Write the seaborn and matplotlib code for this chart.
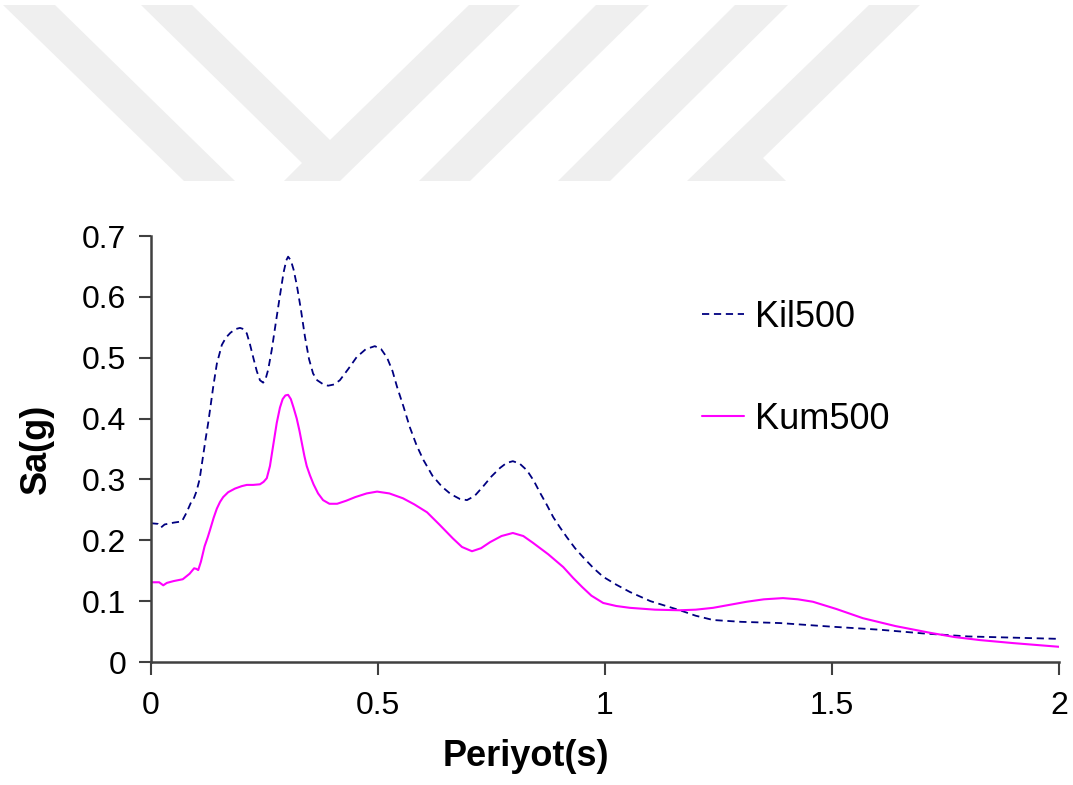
import numpy as np
import pandas as pd
import matplotlib
matplotlib.use("Agg")
import matplotlib.pyplot as plt
from matplotlib.patches import Polygon
import seaborn as sns

# ---- data ----
kil_period = [0.00, 0.015, 0.022, 0.03, 0.05, 0.068, 0.078, 0.088, 0.095, 0.10, 0.107,
              0.115, 0.12, 0.126, 0.132, 0.137, 0.145, 0.156, 0.165, 0.175, 0.186, 0.196,
              0.204, 0.211, 0.218, 0.226, 0.233, 0.240, 0.247, 0.252, 0.258, 0.266, 0.275,
              0.284, 0.292, 0.298, 0.302, 0.308, 0.314, 0.321, 0.330, 0.339, 0.348, 0.357,
              0.366, 0.378, 0.39, 0.403, 0.416, 0.435, 0.453, 0.473, 0.493, 0.507, 0.52,
              0.532, 0.542, 0.556, 0.57, 0.585, 0.60, 0.62, 0.641, 0.66, 0.68, 0.696,
              0.713, 0.731, 0.75, 0.769, 0.783, 0.797, 0.812, 0.828, 0.843, 0.857, 0.872,
              0.886, 0.901, 0.916, 0.934, 0.952, 0.975, 0.996, 1.025, 1.055, 1.10, 1.165,
              1.20, 1.238, 1.30, 1.385, 1.50, 1.606, 1.70, 1.80, 1.90, 2.00]
kil_sa = [0.228, 0.227, 0.221, 0.226, 0.229, 0.231, 0.245, 0.262, 0.270, 0.280, 0.300,
          0.340, 0.365, 0.393, 0.425, 0.452, 0.490, 0.521, 0.533, 0.541, 0.547, 0.549,
          0.547, 0.540, 0.522, 0.498, 0.478, 0.463, 0.459, 0.464, 0.480, 0.513, 0.558,
          0.602, 0.640, 0.660, 0.666, 0.660, 0.645, 0.620, 0.580, 0.535, 0.498, 0.474,
          0.463, 0.457, 0.454, 0.456, 0.463, 0.482, 0.501, 0.514, 0.519, 0.514, 0.500,
          0.478, 0.452, 0.420, 0.386, 0.356, 0.332, 0.306, 0.288, 0.276, 0.268, 0.266,
          0.273, 0.288, 0.305, 0.319, 0.327, 0.330, 0.326, 0.315, 0.298, 0.278, 0.258,
          0.238, 0.221, 0.205, 0.187, 0.172, 0.154, 0.140, 0.127, 0.115, 0.100, 0.085,
          0.076, 0.069, 0.066, 0.064, 0.058, 0.053, 0.047, 0.042, 0.040, 0.038]

kum_period = [0.00, 0.018, 0.027, 0.035, 0.05, 0.07, 0.085, 0.095, 0.10, 0.104, 0.11,
              0.118, 0.125, 0.13, 0.138, 0.145, 0.152, 0.159, 0.17, 0.185, 0.20, 0.211,
              0.225, 0.24, 0.248, 0.255, 0.262, 0.27, 0.277, 0.284, 0.29, 0.296, 0.302,
              0.308, 0.314, 0.321, 0.327, 0.333, 0.338, 0.343, 0.35, 0.358, 0.368, 0.379,
              0.393, 0.41, 0.43, 0.45, 0.475, 0.498, 0.525, 0.555, 0.58, 0.608, 0.635,
              0.665, 0.685, 0.707, 0.727, 0.747, 0.772, 0.797, 0.82, 0.841, 0.875, 0.908,
              0.93, 0.95, 0.97, 0.996, 1.025, 1.055, 1.11, 1.165, 1.20, 1.238, 1.275,
              1.312, 1.35, 1.392, 1.425, 1.458, 1.51, 1.568, 1.64, 1.716, 1.77, 1.826,
              1.90, 2.00]
kum_sa = [0.131, 0.131, 0.126, 0.130, 0.133, 0.136, 0.145, 0.154, 0.153, 0.151, 0.165,
          0.190, 0.205, 0.217, 0.237, 0.252, 0.263, 0.271, 0.279, 0.285, 0.289, 0.291,
          0.291, 0.292, 0.296, 0.302, 0.322, 0.360, 0.393, 0.418, 0.432, 0.438, 0.439,
          0.432, 0.418, 0.400, 0.380, 0.357, 0.338, 0.322, 0.307, 0.292, 0.277, 0.266,
          0.260, 0.260, 0.265, 0.271, 0.277, 0.280, 0.277, 0.269, 0.259, 0.246, 0.226,
          0.203, 0.189, 0.182, 0.187, 0.197, 0.207, 0.212, 0.207, 0.196, 0.177, 0.156,
          0.138, 0.123, 0.109, 0.097, 0.092, 0.089, 0.086, 0.085, 0.086, 0.089, 0.094,
          0.099, 0.103, 0.105, 0.103, 0.099, 0.087, 0.072, 0.059, 0.048, 0.041, 0.036,
          0.031, 0.025]

series_names = ["Kil500", "Kum500"]
x_ticks = [0, 0.5, 1, 1.5, 2]
x_tick_labels = ["0", "0.5", "1", "1.5", "2"]
y_ticks = [0, 0.1, 0.2, 0.3, 0.4, 0.5, 0.6, 0.7]
y_tick_labels = ["0", "0.1", "0.2", "0.3", "0.4", "0.5", "0.6", "0.7"]

sns.set_style("white")
plt.rcParams["font.family"] = ["Liberation Sans", "DejaVu Sans"]
plt.rcParams["text.color"] = "black"
plt.rcParams["axes.labelcolor"] = "black"
plt.rcParams["xtick.color"] = "black"
plt.rcParams["ytick.color"] = "black"

W, H = 1073, 785
fig = plt.figure(figsize=(W / 100, H / 100), dpi=100)

# watermark chevrons (decorative background, in pixel coordinates)
wm_color = "#efefef"
shapes = [
    [(3, 5), (55, 5), (235, 181), (184, 181)],
    [(141, 5), (192, 5), (330, 140), (469, 5), (520, 5), (340, 181), (284, 181), (302, 163)],
    [(596, 5), (649, 5), (470, 181), (419, 181)],
    [(735, 5), (788, 5), (610, 181), (558, 181)],
    [(869, 5), (920, 5), (763, 158), (786, 181), (687, 181)],
]
for s in shapes:
    pts = [(x / W, 1 - y / H) for x, y in s]
    fig.patches.append(Polygon(pts, closed=True, transform=fig.transFigure,
                               facecolor=wm_color, edgecolor="none", zorder=0))

ax = fig.add_axes([151 / W, 1 - 662 / H, (1059 - 151) / W, (662 - 236) / H])
ax.patch.set_alpha(0)

df_kil = pd.DataFrame({"Periyot": kil_period, "Sa": kil_sa, "Seri": series_names[0]})
df_kum = pd.DataFrame({"Periyot": kum_period, "Sa": kum_sa, "Seri": series_names[1]})

sns.lineplot(data=df_kil, x="Periyot", y="Sa", ax=ax, color="#000080", lw=1.3,
             linestyle=(0, (4, 2.6)), label=series_names[0], estimator=None, sort=False)
sns.lineplot(data=df_kum, x="Periyot", y="Sa", ax=ax, color="#FF00FF", lw=1.5,
             label=series_names[1], estimator=None, sort=False)

ax.set_xlim(0, 2)
ax.set_ylim(0, 0.7)
ax.set_xticks(x_ticks)
ax.set_xticklabels(x_tick_labels)
ax.set_yticks(y_ticks)
ax.set_yticklabels(y_tick_labels)
ax.tick_params(axis="both", direction="out", length=9, width=1.5, color="#404040",
               labelsize=23, labelcolor="black", left=True, bottom=True)
ax.tick_params(axis="x", pad=12)
ax.tick_params(axis="y", pad=9)
for side in ["top", "right"]:
    ax.spines[side].set_visible(False)
for side in ["left", "bottom"]:
    ax.spines[side].set_color("#404040")
    ax.spines[side].set_linewidth(1.8)

ax.set_xlabel("Periyot(s)", fontsize=26, fontweight="bold", labelpad=13,
              x=(526 - 151) / (1059 - 151))
ax.set_ylabel("Sa(g)", fontsize=26, fontweight="bold", labelpad=20)

leg = ax.legend(loc="upper left", bbox_to_anchor=(702 / W, 1 - 300 / H),
                bbox_transform=fig.transFigure, frameon=False, fontsize=26,
                handlelength=1.15, handletextpad=0.33, labelspacing=1.85,
                borderpad=0, borderaxespad=0)

fig.savefig("out.png", dpi=100)
